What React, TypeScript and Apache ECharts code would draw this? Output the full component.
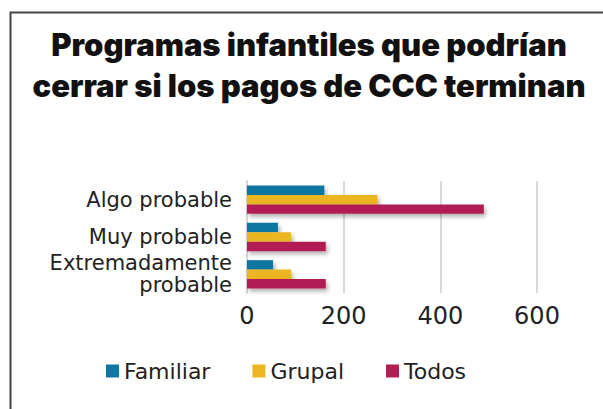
import React, { useEffect, useRef } from "react";
import * as echarts from "echarts";

const titleLines = ["Programas infantiles que podrían", "cerrar si los pagos de CCC terminan"];
const categories = ["Algo probable", "Muy probable", "Extremadamente\nprobable"];
const seriesNames = ["Familiar", "Grupal", "Todos"];
const familiar = [160, 64, 54];
const grupal = [270, 91, 91];
const todos = [490, 163, 163];
const colors = ["#0f77a0", "#ecb521", "#b21f55"];
const xTicks = [0, 200, 400, 600];

const bodyFont = "DejaVu Sans";

export default function App() {
  const ref = useRef<HTMLDivElement>(null);
  useEffect(() => {
    const chart = echarts.init(ref.current!, null, { renderer: "svg" });
    const values = [familiar, grupal, todos];
    chart.setOption({
      animation: false,
      backgroundColor: "#ffffff",
      textStyle: { fontFamily: bodyFont },
      title: {
        text: titleLines.join("\n"),
        left: 304,
        top: 19,
        textAlign: "center",
        textStyle: {
          fontFamily: "Inter",
          fontWeight: 900,
          fontSize: 31,
          lineHeight: 41,
          color: "#111111",
        },
      },
      graphic: [
        {
          type: "polyline",
          shape: { points: [[10.5, 409], [10.5, 12.5], [603, 12.5]] },
          style: { stroke: "#444444", lineWidth: 2, fill: "none" },
          silent: true,
        },
      ],
      legend: {
        data: seriesNames,
        left: 101,
        top: 355,
        icon: "rect",
        itemWidth: 13,
        itemHeight: 13,
        itemGap: 42,
        textStyle: { fontSize: 22, color: "#222222", fontFamily: bodyFont },
      },
      grid: { left: 247, right: 66, top: 181, bottom: 116, containLabel: false },
      xAxis: {
        type: "value",
        min: 0,
        max: 600,
        interval: 200,
        axisLine: { show: false },
        axisTick: { show: false },
        axisLabel: {
          fontSize: 24,
          color: "#222222",
          margin: 11,
          fontFamily: bodyFont,
          formatter: (v: number) => (xTicks.includes(v) ? String(v) : ""),
        },
        splitLine: { show: true, lineStyle: { color: "#dadada", width: 2 } },
      },
      yAxis: {
        type: "category",
        data: categories,
        inverse: true,
        axisLine: { show: true, lineStyle: { color: "#d6d6d6", width: 2 } },
        axisTick: { show: false },
        axisLabel: {
          fontSize: 21,
          lineHeight: 22,
          color: "#222222",
          margin: 15,
          align: "right",
          fontFamily: bodyFont,
        },
      },
      series: seriesNames.map((name, i) => ({
        name,
        type: "bar",
        data: values[i],
        barGap: "0%",
        barCategoryGap: "24%",
        itemStyle: {
          color: colors[i],
          shadowColor: "rgba(0,0,0,0.3)",
          shadowBlur: 4,
          shadowOffsetX: 2,
          shadowOffsetY: 3,
        },
      })),
    });
    return () => chart.dispose();
  }, []);
  return (
    <div
      ref={ref}
      style={{ position: "fixed", left: 0, top: 0, width: 603, height: 409 }}
    />
  );
}
